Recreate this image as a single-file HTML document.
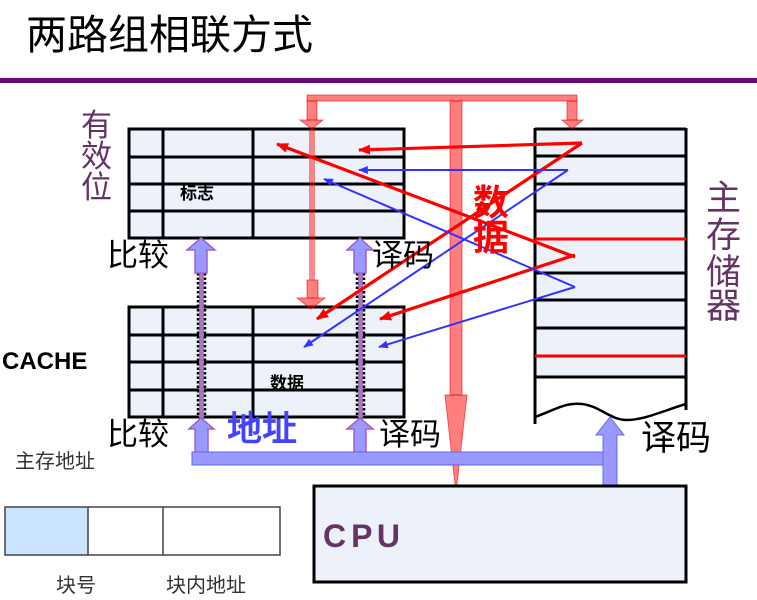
<!DOCTYPE html>
<html><head><meta charset="utf-8"><style>
html,body{margin:0;padding:0;background:#fff;}
svg{display:block;}
text{font-family:"Liberation Sans","Noto Sans CJK SC",sans-serif;}
</style></head><body>
<svg width="757" height="600" viewBox="0 0 757 600" xmlns="http://www.w3.org/2000/svg">
<defs>
<marker id="ar" viewBox="0 0 12 10" refX="11" refY="5" markerWidth="13" markerHeight="10" markerUnits="userSpaceOnUse" orient="auto"><path d="M0,0 L12,5 L0,10 z" fill="#ff0000"/></marker>
<marker id="ab" viewBox="0 0 12 10" refX="11" refY="5" markerWidth="11" markerHeight="8" markerUnits="userSpaceOnUse" orient="auto"><path d="M0,0 L12,5 L0,10 z" fill="#3333ff"/></marker>
</defs>

<!-- title -->
<text x="26" y="49" font-size="41" fill="#000">两路组相联方式</text>
<rect x="0" y="78" width="757" height="5" fill="#6a0a74"/>

<!-- upper cache -->
<rect x="129" y="129" width="275" height="109" fill="#edf1fa" stroke="#000" stroke-width="3"/>
<g stroke="#000" stroke-width="3">
<line x1="129" y1="157" x2="404" y2="157"/>
<line x1="129" y1="184" x2="404" y2="184"/>
<line x1="129" y1="211" x2="404" y2="211"/>
<line x1="163" y1="129" x2="163" y2="238"/>
<line x1="253" y1="129" x2="253" y2="238"/>
</g>
<!-- lower cache -->
<rect x="129" y="307" width="275" height="110" fill="#edf1fa" stroke="#000" stroke-width="3"/>
<g stroke="#000" stroke-width="3">
<line x1="129" y1="335" x2="404" y2="335"/>
<line x1="129" y1="362" x2="404" y2="362"/>
<line x1="129" y1="390" x2="404" y2="390"/>
<line x1="163" y1="307" x2="163" y2="417"/>
<line x1="253" y1="307" x2="253" y2="417"/>
</g>

<!-- main memory -->
<rect x="535" y="129" width="151" height="248" fill="#edf1fa"/>
<g stroke="#000" stroke-width="3" fill="none">
<line x1="535" y1="129" x2="686" y2="129"/>
<line x1="535" y1="128" x2="535" y2="424"/>
<line x1="686" y1="128" x2="686" y2="410"/>
<line x1="535" y1="156" x2="686" y2="156"/>
<line x1="535" y1="184" x2="686" y2="184"/>
<line x1="535" y1="211" x2="686" y2="211"/>
<line x1="535" y1="273" x2="686" y2="273"/>
<line x1="535" y1="300" x2="686" y2="300"/>
<line x1="535" y1="328" x2="686" y2="328"/>
<line x1="535" y1="377" x2="686" y2="377"/>
<path d="M535 417 C 555 410, 565 402, 582 404 C 600 406, 610 420, 627 420 C 645 420, 665 410, 686 404" stroke-width="2.5"/>
</g>
<line x1="535" y1="239" x2="686" y2="239" stroke="#ff0000" stroke-width="3"/>
<line x1="535" y1="356" x2="686" y2="356" stroke="#ff0000" stroke-width="3"/>

<!-- red data bus (translucent) -->
<g fill="rgba(255,0,0,0.5)" stroke="rgba(230,0,0,0.55)" stroke-width="1">
<rect x="307" y="95" width="270" height="6"/>
<rect x="307" y="101" width="10" height="19"/>
<polygon points="300,120 323,120 312,129"/>
<rect x="567" y="101" width="10" height="19"/>
<polygon points="562,120 583,120 572,129"/>
<rect x="450" y="101" width="12" height="294"/>
<polygon points="445,395 467,395 456,493"/>
<rect x="307" y="280" width="11" height="18"/>
<polygon points="297,298 325,298 311,309"/>
</g>
<line x1="312" y1="129" x2="312" y2="280" stroke="rgba(255,0,0,0.45)" stroke-width="6"/>

<!-- purple dotted links -->
<g>
<line x1="201.5" y1="273" x2="201.5" y2="418" stroke="#a877bd" stroke-width="5"/>
<line x1="198" y1="273" x2="198" y2="418" stroke="#000" stroke-width="2.5" stroke-dasharray="2.5,2"/>
<line x1="205" y1="273" x2="205" y2="418" stroke="#000" stroke-width="2.5" stroke-dasharray="2.5,2"/>
<line x1="360.5" y1="273" x2="360.5" y2="418" stroke="#a877bd" stroke-width="5"/>
<line x1="357" y1="273" x2="357" y2="418" stroke="#000" stroke-width="2.5" stroke-dasharray="2.5,2"/>
<line x1="364" y1="273" x2="364" y2="418" stroke="#000" stroke-width="2.5" stroke-dasharray="2.5,2"/>
</g>

<!-- purple arrows -->
<g fill="#9999ff" stroke="#a060d0" stroke-width="1.5">
<polygon points="201,238 215,250 207,250 207,273 195,273 195,250 187,250"/>
<polygon points="360,238 373,250 366,250 366,273 354,273 354,250 347,250"/>
<polygon points="201,418 214,429 208,429 208,453 195,453 195,429 189,429"/>
<polygon points="360,418 373,429 366,429 366,453 354,453 354,429 347,429"/>
</g>

<!-- blue address bus -->
<rect x="192" y="452" width="411" height="13" fill="#9999ff" stroke="#6262f0" stroke-width="1"/>
<polygon points="610,417 624,435 617,435 617,485 603,485 603,435 596,435" fill="#9999ff" stroke="#6a6af0" stroke-width="1"/>

<!-- CPU -->
<rect x="314" y="486" width="372" height="96" fill="#edf1fa" stroke="#000" stroke-width="3"/>
<text x="323" y="547" font-size="32" font-weight="bold" fill="#663366" textLength="77" lengthAdjust="spacing">C P U</text>

<!-- red mapping lines -->
<g stroke="#ff0000" stroke-width="3.2" fill="none">
<line x1="582" y1="143" x2="359" y2="150" marker-end="url(#ar)"/>
<line x1="582" y1="143" x2="317" y2="319" marker-end="url(#ar)"/>
<line x1="575" y1="257" x2="277" y2="144" marker-end="url(#ar)"/>
<line x1="575" y1="255" x2="380" y2="319" marker-end="url(#ar)"/>
</g>
<g stroke="#3333ff" stroke-width="2" fill="none">
<line x1="568" y1="170" x2="359" y2="170" marker-end="url(#ab)"/>
<line x1="568" y1="170" x2="304" y2="347" marker-end="url(#ab)"/>
<line x1="575" y1="287" x2="324" y2="179" marker-end="url(#ab)"/>
<line x1="575" y1="287" x2="379" y2="347" marker-end="url(#ab)"/>
</g>

<!-- labels -->
<g fill="#663366" font-size="31">
<text x="81" y="136">有</text>
<text x="81" y="167">效</text>
<text x="81" y="198">位</text>
</g>
<g fill="#663366" font-size="35">
<text x="706" y="210">主</text>
<text x="706" y="247">存</text>
<text x="706" y="284">储</text>
<text x="706" y="318">器</text>
</g>
<g fill="#ff0000" font-size="36" font-weight="bold">
<text x="473" y="215">数</text>
<text x="473" y="250">据</text>
</g>
<text x="180" y="199" font-size="17" font-weight="bold" fill="#000">标志</text>
<text x="270" y="389" font-size="17" font-weight="bold" fill="#000">数据</text>
<g font-size="31" fill="#000">
<text x="107" y="266">比较</text>
<text x="372" y="266">译码</text>
<text x="107" y="445">比较</text>
<text x="379" y="445">译码</text>
</g>
<text x="641" y="450" font-size="35" fill="#000">译码</text>
<text x="227" y="441" font-size="35" font-weight="500" fill="#4444ff" stroke="#4444ff" stroke-width="0.6">地址</text>
<text x="2" y="369" font-size="24" font-weight="bold" fill="#000">CACHE</text>
<text x="15" y="468" font-size="20" fill="#333">主存地址</text>

<!-- address format box -->
<rect x="5" y="507" width="83" height="48" fill="#cce5ff"/>
<rect x="5" y="507" width="275" height="48" fill="none" stroke="#444" stroke-width="1.5"/>
<line x1="88" y1="507" x2="88" y2="555" stroke="#444" stroke-width="1.5"/>
<line x1="163" y1="507" x2="163" y2="555" stroke="#444" stroke-width="1.5"/>
<text x="56" y="592" font-size="20" fill="#333">块号</text>
<text x="166" y="592" font-size="20" fill="#333">块内地址</text>
</svg>
</body></html>
